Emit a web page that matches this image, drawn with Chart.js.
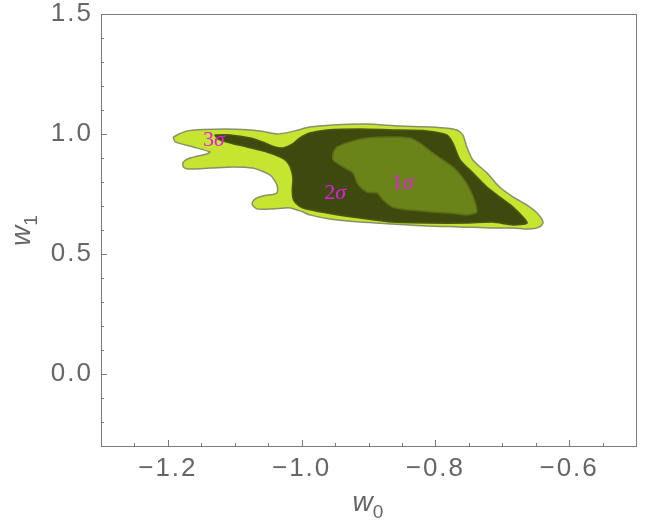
<!DOCTYPE html>
<html>
<head>
<meta charset="utf-8">
<script src="https://cdn.jsdelivr.net/npm/chart.js@4.4.1/dist/chart.umd.min.js"></script>
<style>
	html, body { margin: 0; padding: 0; background: #fff; }
	#wrap { width: 646px; height: 522px; }
</style>
</head>
<body>
<div id="wrap"><canvas id="contourChart" width="646" height="522"></canvas></div>
<script>
/* ── 축 / 눈금 ── */
const xRange = [-1.3, -0.5];
const yRange = [-0.3, 1.5];
const xTicks = [-1.2, -1.0, -0.8, -0.6];
const yTicks = [0.0, 0.5, 1.0, 1.5];

/* ── 3σ 외곽 (w0, w1) ── */
const sigma3X = [-1.192, -1.171, -1.112, -1.062, -1.037, -1.010, -0.988, -0.953, -0.902, -0.853, -0.804, -0.768, -0.759, -0.753, -0.744, -0.723, -0.704, -0.684, -0.663, -0.648, -0.639, -0.644, -0.659, -0.684, -0.714, -0.763, -0.813, -0.864, -0.913, -0.958, -0.988, -0.998, -1.017, -1.043, -1.067, -1.074, -1.070, -1.058, -1.037, -1.037, -1.047, -1.073, -1.103, -1.137, -1.170, -1.177, -1.177, -1.167, -1.142, -1.137, -1.162, -1.189];
const sigma3Y = [0.988, 1.013, 1.021, 1.013, 1.000, 1.013, 1.029, 1.038, 1.042, 1.033, 1.029, 1.017, 0.996, 0.946, 0.892, 0.838, 0.779, 0.738, 0.704, 0.671, 0.633, 0.613, 0.604, 0.608, 0.608, 0.613, 0.617, 0.625, 0.633, 0.646, 0.663, 0.675, 0.692, 0.688, 0.688, 0.708, 0.729, 0.742, 0.754, 0.788, 0.829, 0.858, 0.863, 0.858, 0.854, 0.863, 0.883, 0.900, 0.917, 0.925, 0.946, 0.967];

/* ── 2σ ── */
const sigma2X = [-1.130, -1.107, -1.077, -1.055, -1.040, -1.028, -1.014, -1.003, -0.988, -0.962, -0.913, -0.864, -0.813, -0.783, -0.774, -0.763, -0.744, -0.723, -0.704, -0.684, -0.669, -0.663, -0.684, -0.714, -0.753, -0.813, -0.864, -0.913, -0.962, -0.998, -1.009, -1.013, -1.014, -1.013, -1.017, -1.023, -1.032, -1.052, -1.082, -1.112, -1.125];
const sigma2Y = [0.996, 0.996, 0.983, 0.963, 0.946, 0.942, 0.958, 0.983, 1.004, 1.017, 1.021, 1.017, 1.013, 0.996, 0.963, 0.892, 0.838, 0.779, 0.738, 0.696, 0.654, 0.629, 0.621, 0.633, 0.629, 0.629, 0.633, 0.650, 0.671, 0.692, 0.713, 0.733, 0.767, 0.817, 0.863, 0.888, 0.904, 0.925, 0.946, 0.967, 0.979];

/* ── 1σ ── */
const sigma1X = [-0.953, -0.947, -0.928, -0.902, -0.868, -0.838, -0.819, -0.804, -0.789, -0.774, -0.759, -0.748, -0.741, -0.738, -0.753, -0.778, -0.804, -0.838, -0.864, -0.878, -0.887, -0.902, -0.917, -0.923, -0.938, -0.953];
const sigma1Y = [0.921, 0.946, 0.967, 0.983, 0.988, 0.983, 0.954, 0.921, 0.892, 0.863, 0.817, 0.767, 0.717, 0.675, 0.663, 0.671, 0.675, 0.683, 0.696, 0.725, 0.754, 0.758, 0.796, 0.838, 0.863, 0.892];

/* ── 등고선 라벨 ── */
const sigmaNums   = ['3', '2', '1'];
const sigmaLabelX = [-1.131, -0.950, -0.849];
const sigmaLabelY = [0.975, 0.754, 0.796];

const AXIS_GRAY = '#7a7a7a';
const TEXT_GRAY = '#666666';

function toPoints(xs, ys) {
	var pts = xs.map(function(x, i) { return { x: x, y: ys[i] }; });
	pts.push({ x: xs[0], y: ys[0] });   // 닫힌 도형
	return pts;
}

function fmt(v) {
	var s = Math.abs(v).toFixed(1);
	return v < 0 ? '\u2212' + s : s;
}

/* 눈금 라벨 자간 — Mathematica 글꼴이 더 넓다 */
const spacingPlugin = {
	id: 'spacing',
	beforeDraw(chart) { chart.ctx.letterSpacing = '2px'; }
};

/* 프레임, 안쪽 눈금, 축 제목, σ 라벨 */
const framePlugin = {
	id: 'frame',
	afterDatasetsDraw(chart) {
		const ctx = chart.ctx, a = chart.chartArea;
		const xs = chart.scales.x, ys = chart.scales.y;
		ctx.save();
		ctx.letterSpacing = '0px';

		// σ 라벨 (숫자 + 이탤릭 σ)
		ctx.fillStyle = '#e21ee0';
		ctx.textBaseline = 'middle';
		ctx.textAlign = 'left';
		sigmaNums.forEach(function(num, i) {
			const px = xs.getPixelForValue(sigmaLabelX[i]);
			const py = ys.getPixelForValue(sigmaLabelY[i]);
			ctx.font = '22px "Liberation Serif", serif';
			const nw = ctx.measureText(num).width;
			ctx.font = 'italic 22px "Liberation Serif", serif';
			const sw = ctx.measureText('σ').width;
			const x0 = px - (nw + sw) / 2;
			ctx.font = '22px "Liberation Serif", serif';
			ctx.fillText(num, x0, py);
			ctx.font = 'italic 22px "Liberation Serif", serif';
			ctx.fillText('σ', x0 + nw, py);
		});

		// 프레임
		ctx.strokeStyle = AXIS_GRAY;
		ctx.lineWidth = 1;
		ctx.strokeRect(Math.round(a.left) + 0.5, Math.round(a.top) + 0.5,
			Math.round(a.right - a.left), Math.round(a.bottom - a.top));

		// 눈금 (주/보조)
		ctx.beginPath();
		for (let v = xRange[0]; v <= xRange[1] + 1e-9; v += 0.05) {
			const major = xTicks.some(t => Math.abs(t - v) < 1e-6);
			const px = Math.round(xs.getPixelForValue(v)) + 0.5;
			ctx.moveTo(px, a.bottom);
			ctx.lineTo(px, a.bottom - (major ? 6 : 3));
		}
		for (let v = yRange[0]; v <= yRange[1] + 1e-9; v += 0.1) {
			const major = yTicks.some(t => Math.abs(t - v) < 1e-6);
			const py = Math.round(ys.getPixelForValue(v)) + 0.5;
			ctx.moveTo(a.left, py);
			ctx.lineTo(a.left + (major ? 6 : 3), py);
		}
		ctx.stroke();

		// 축 제목 w0 / w1
		ctx.fillStyle = TEXT_GRAY;
		ctx.textBaseline = 'alphabetic';
		const cx = (a.left + a.right) / 2;
		ctx.font = 'italic 28px "Liberation Sans", sans-serif';
		const ww = ctx.measureText('w').width;
		ctx.fillText('w', cx - 16, 511);
		ctx.font = '19px "Liberation Sans", sans-serif';
		ctx.fillText('0', cx - 16 + ww, 518);

		ctx.translate(30, (a.top + a.bottom) / 2);
		ctx.rotate(-Math.PI / 2);
		ctx.font = 'italic 28px "Liberation Sans", sans-serif';
		ctx.fillText('w', -16, 0);
		ctx.font = '19px "Liberation Sans", sans-serif';
		ctx.fillText('1', -16 + ww, 7);
		ctx.restore();
	}
};

function regionDataset(label, xs, ys, fillColor, lineColor, order) {
	return {
		label: label,
		data: toPoints(xs, ys),
		showLine: true,
		fill: 'shape',
		backgroundColor: fillColor,
		borderColor: lineColor,
		borderWidth: 1.5,
		pointRadius: 0,
		tension: 0.25,
		order: order
	};
}

new Chart(document.getElementById('contourChart'), {
	type: 'scatter',
	data: {
		datasets: [
			regionDataset('3σ', sigma3X, sigma3Y, '#c6e531', '#8a8f6a', 3),
			regionDataset('2σ', sigma2X, sigma2Y, '#3e4a0d', '#4a5516', 2),
			regionDataset('1σ', sigma1X, sigma1Y, '#6b841a', '#5b6f17', 1)
		]
	},
	options: {
		responsive: false,
		animation: false,
		layout: { padding: { top: 14, right: 10, left: 0, bottom: 0 } },
		plugins: { legend: { display: false }, tooltip: { enabled: false } },
		scales: {
			x: {
				type: 'linear', min: xRange[0], max: xRange[1],
				grid: { display: false, drawTicks: false },
				border: { display: false },
				afterBuildTicks: function(s) { s.ticks = xTicks.map(v => ({ value: v })); },
				afterFit: function(s) { s.height = 76; s.paddingLeft = 0; s.paddingRight = 0; },
				ticks: {
					padding: 7, color: TEXT_GRAY, maxRotation: 0,
					font: { family: '"Liberation Sans", sans-serif', size: 26 },
					callback: v => fmt(v)
				}
			},
			y: {
				type: 'linear', min: yRange[0], max: yRange[1],
				grid: { display: false, drawTicks: false },
				border: { display: false },
				afterBuildTicks: function(s) { s.ticks = yTicks.map(v => ({ value: v })); },
				afterFit: function(s) { s.width = 101; s.paddingTop = 0; s.paddingBottom = 0; },
				ticks: {
					padding: 8, color: TEXT_GRAY,
					font: { family: '"Liberation Sans", sans-serif', size: 26 },
					callback: v => fmt(v)
				}
			}
		}
	},
	plugins: [spacingPlugin, framePlugin]
});
</script>
</body>
</html>
